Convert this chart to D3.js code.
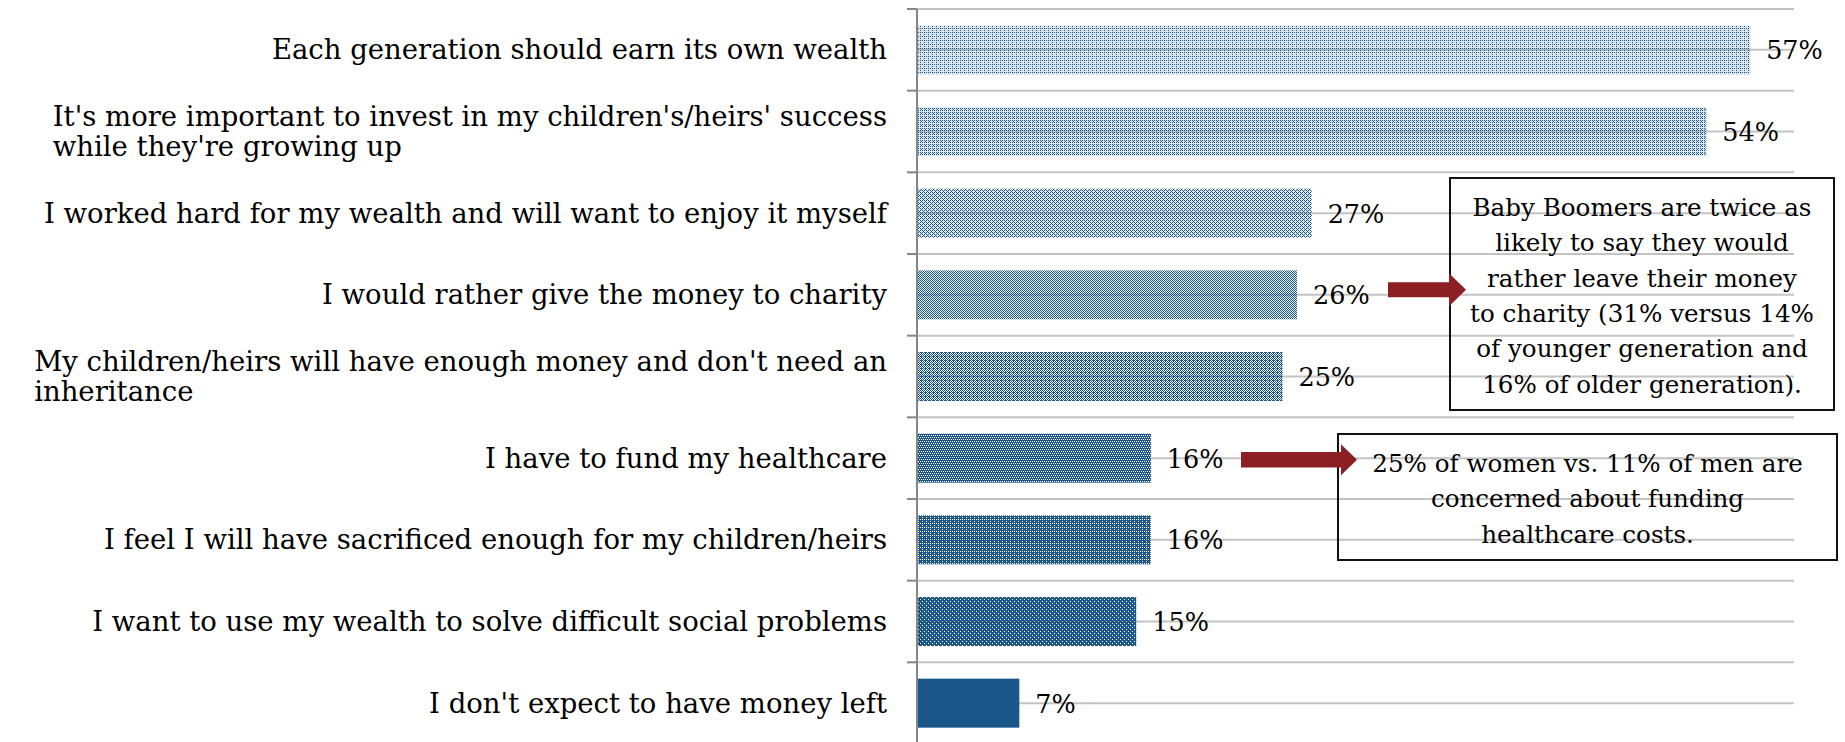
<!DOCTYPE html>
<html>
<head>
<meta charset="utf-8">
<script src="https://cdn.jsdelivr.net/npm/d3@7"></script>
<style>
  html, body { margin: 0; padding: 0; background: #fff; }
  svg { display: block; }
  text { font-family: "DejaVu Serif", "Liberation Serif", serif; fill: #000; }
</style>
</head>
<body>
<svg id="chart" width="1845" height="742"></svg>
<script>
// Reasons given for not leaving wealth to heirs (share of respondents, %)
const categories = [
  "Each generation should earn its own wealth",
  "It's more important to invest in my children's/heirs' success\nwhile they're growing up",
  "I worked hard for my wealth and will want to enjoy it myself",
  "I would rather give the money to charity",
  "My children/heirs will have enough money and don't need an\ninheritance",
  "I have to fund my healthcare",
  "I feel I will have sacrificed enough for my children/heirs",
  "I want to use my wealth to solve difficult social problems",
  "I don't expect to have money left"
];
const values = [57, 54, 27, 26, 25, 16, 16, 15, 7];
const valueLabels = ["57%", "54%", "27%", "26%", "25%", "16%", "16%", "15%", "7%"];

const charityNote = [
  "Baby Boomers are twice as",
  "likely to say they would",
  "rather leave their money",
  "to charity (31% versus 14%",
  "of younger generation and",
  "16% of older generation)."
];
const healthNote = [
  "25% of women vs. 11% of men are",
  "concerned about funding",
  "healthcare costs."
];

// ---- layout ----
const LABEL_FONT = 27.5;
const VALUE_FONT = 25.5;
const NOTE_FONT = 24.6;
const barColor = "#1b5689";
const gridColor = "#c3c3c3";
const axisColor = "#868686";
const arrowColor = "#8c1f23";

const svg = d3.select("#chart");

const x = d3.scaleLinear().domain([0, 60]).range([917, 1794]);
const y = d3.scaleBand()
  .domain(categories)
  .range([9, 744])
  .paddingInner(0.4)
  .paddingOuter(0.2);

const step = y.step();
const top0 = y.range()[0];

// ---- fill patterns (density grows as the bars get shorter) ----
const masks = [
  ["1010", "0000", "1000", "0000"],
  ["1010", "0100", "1010", "0000"],
  ["1010", "0100", "1010", "0001"],
  ["1010", "0101", "1010", "0101"],
  ["1110", "0101", "1010", "0101"],
  ["1111", "0101", "1111", "1010"],
  ["1111", "1101", "1111", "0101"],
  ["1111", "1101", "1111", "0111"],
  null
];
const tints = [0.16, 0.14, 0.12, 0.1, 0.1, 0, 0, 0, 0];
const defs = svg.append("defs");
masks.forEach((m, i) => {
  if (!m) return;
  const p = defs.append("pattern")
    .attr("id", "pat" + i)
    .attr("patternUnits", "userSpaceOnUse")
    .attr("width", 4).attr("height", 4);
  if (tints[i] > 0) {
    p.append("rect").attr("width", 4).attr("height", 4)
      .attr("fill", barColor).attr("fill-opacity", tints[i]);
  }
  m.forEach((row, r) => {
    row.split("").forEach((c, k) => {
      if (c === "1") {
        p.append("rect")
          .attr("x", k).attr("y", r)
          .attr("width", 1).attr("height", 1)
          .attr("fill", barColor)
          .attr("shape-rendering", "crispEdges");
      }
    });
  });
});

// ---- horizontal grid lines: category boundaries and category centres ----
const gridYs = [];
for (let i = 0; i <= categories.length; i++) {
  gridYs.push(top0 + i * step);
  if (i < categories.length) gridYs.push(top0 + (i + 0.5) * step);
}
svg.append("g").attr("class", "grid")
  .selectAll("line").data(gridYs).join("line")
  .attr("x1", x.range()[0]).attr("x2", x.range()[1])
  .attr("y1", d => d).attr("y2", d => d)
  .attr("stroke", gridColor).attr("stroke-width", 2);

// ---- bars ----
svg.append("g").attr("class", "bars")
  .selectAll("rect").data(categories).join("rect")
  .attr("x", x(0))
  .attr("y", d => y(d))
  .attr("width", (d, i) => x(values[i]) - x(0))
  .attr("height", y.bandwidth())
  .attr("fill", (d, i) => masks[i] ? `url(#pat${i})` : barColor);

// ---- category axis: line with tick marks at the category boundaries ----
const axis = svg.append("g").attr("class", "axis");
axis.append("line")
  .attr("x1", x(0)).attr("x2", x(0))
  .attr("y1", top0).attr("y2", 742)
  .attr("stroke", axisColor).attr("stroke-width", 2);
axis.selectAll("line.tick")
  .data(d3.range(categories.length + 1)).join("line")
  .attr("class", "tick")
  .attr("x1", x(0) - 10).attr("x2", x(0))
  .attr("y1", i => top0 + i * step).attr("y2", i => top0 + i * step)
  .attr("stroke", axisColor).attr("stroke-width", 2);

// ---- category labels: block right-aligned to the axis, lines left-aligned ----
const LABEL_RIGHT = x(0) - 30;
const LINE_H = 30;
categories.forEach(c => {
  const lines = c.split("\n");
  const cy = y(c) + y.bandwidth() / 2;
  const g = svg.append("g").attr("class", "cat-label");
  const t = g.selectAll("text").data(lines).join("text")
    .attr("font-size", LABEL_FONT)
    .attr("y", (d, k) => cy - (lines.length - 1) * LINE_H / 2 + k * LINE_H + LABEL_FONT * 0.35)
    .text(d => d);
  let w = 0;
  t.each(function () { w = Math.max(w, this.getComputedTextLength()); });
  t.attr("x", LABEL_RIGHT - w);
});

// ---- value labels ----
svg.append("g").attr("class", "values")
  .selectAll("text").data(categories).join("text")
  .attr("font-size", VALUE_FONT)
  .attr("x", (d, i) => x(values[i]) + 16)
  .attr("y", d => y(d) + y.bandwidth() / 2 + VALUE_FONT * 0.37)
  .text((d, i) => valueLabels[i]);

// ---- call-outs ----
function arrow(x0, x1, cy, shaft, head, headLen) {
  const p = d3.path();
  p.moveTo(x0, cy - shaft / 2);
  p.lineTo(x1 - headLen, cy - shaft / 2);
  p.lineTo(x1 - headLen, cy - head / 2);
  p.lineTo(x1, cy);
  p.lineTo(x1 - headLen, cy + head / 2);
  p.lineTo(x1 - headLen, cy + shaft / 2);
  p.lineTo(x0, cy + shaft / 2);
  p.closePath();
  svg.append("path").attr("d", p.toString()).attr("fill", arrowColor);
}

function noteBox(bx, by, bw, bh, lines, firstBase, lh) {
  const g = svg.append("g").attr("class", "note");
  g.append("rect")
    .attr("x", bx).attr("y", by).attr("width", bw).attr("height", bh)
    .attr("fill", "none").attr("stroke", "#111").attr("stroke-width", 2);
  g.selectAll("text").data(lines).join("text")
    .attr("font-size", NOTE_FONT)
    .attr("text-anchor", "middle")
    .attr("x", bx + bw / 2)
    .attr("y", (d, k) => firstBase + k * lh)
    .text(d => d);
}

const charityRow = y(categories[3]) + y.bandwidth() / 2;
const healthRow = y(categories[5]) + y.bandwidth() / 2;

noteBox(1450, 178, 384, 232, charityNote, 215.7, 35.4);
arrow(1388, 1466, charityRow - 5, 15, 33, 17);

noteBox(1338, 434, 499, 126, healthNote, 471.7, 35.5);
arrow(1241, 1357, healthRow + 1.5, 15.5, 31, 16);
</script>
</body>
</html>
